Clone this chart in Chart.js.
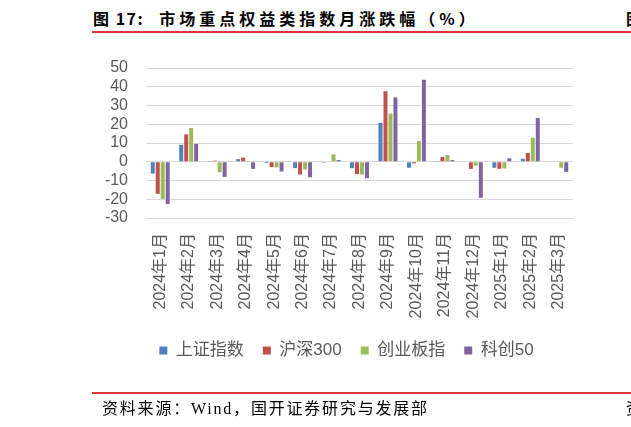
<!DOCTYPE html>
<html>
<head>
<meta charset="utf-8">
<script src="https://cdn.jsdelivr.net/npm/chart.js@4"></script>
<style>
  html, body { margin: 0; padding: 0; background: #fff; }
  #wrap { position: relative; width: 631px; height: 427px; overflow: hidden; }
  #chart { position: absolute; left: 0; top: 0; }
  .title { position: absolute; left: 93px; top: 6px; font: bold 16px "Noto Sans CJK SC", sans-serif; color: #000; white-space: nowrap; }
  .title .num { letter-spacing: 1.5px; }
  .title .txt { margin-left: 15px; letter-spacing: 4px; }
  .title2 { position: absolute; left: 626px; top: 6px; font: bold 16px "Noto Sans CJK SC", sans-serif; color: #000; }
  .rule { position: absolute; left: 92px; right: 0; height: 2px; background: #d9383f; }
  .source { position: absolute; left: 102px; top: 395px; font: 16px "Liberation Serif", "Noto Sans CJK SC", serif; letter-spacing: 1.8px; color: #000; white-space: nowrap; }
  .source2 { position: absolute; left: 626px; top: 395px; font: 16px "Noto Sans CJK SC", serif; color: #000; }
</style>
</head>
<body>
<div id="wrap">
  <div class="title"><span class="num">图 17:</span><span class="txt">市场重点权益类指数月涨跌幅（%）</span></div>
  <div class="title2">图</div>
  <div class="rule" style="top:31px"></div>
  <canvas id="chart" width="631" height="427"></canvas>
  <div class="rule" style="top:392px"></div>
  <div class="source">资料来源：Wind，国开证券研究与发展部</div>
  <div class="source2">资</div>
</div>
<script>
// months on the category axis
const months = ['2024年1月', '2024年2月', '2024年3月', '2024年4月', '2024年5月', '2024年6月',
  '2024年7月', '2024年8月', '2024年9月', '2024年10月', '2024年11月', '2024年12月',
  '2025年1月', '2025年2月', '2025年3月'];

// monthly change, %
const shIndex = [-6.3, 9.0, 0.4, 1.4, -0.7, -3.4, -0.5, -3.4, 20.8, -3.2, 0.4, -0.3, -3.2, 1.6, 0.3];
const hs300 = [-17.1, 14.6, 0.6, 2.2, -2.9, -6.8, 0.0, -6.6, 37.6, -0.9, 2.5, -3.8, -3.8, 4.7, 0.0];
const chinext = [-19.8, 18.0, -5.6, 0.5, -3.0, -4.1, 3.9, -6.8, 25.7, 11.0, 3.6, -2.0, -3.6, 12.8, -3.2];
const star50 = [-22.5, 9.5, -8.1, -3.8, -5.2, -8.3, 0.9, -8.8, 34.3, 43.7, 0.9, -19.2, 1.8, 23.4, -5.4];

const yTicks = [-30, -20, -10, 0, 10, 20, 30, 40, 50];

const grey = '#595959';
const family = '"Liberation Sans", "Noto Sans CJK SC", sans-serif';

// nudge the legend a bit right, like the original
const legendShift = {
  id: 'legendShift',
  afterLayout(chart) {
    chart.legend.left += 10;
    chart.legend.right += 10;
  }
};

const ctx = document.getElementById('chart').getContext('2d');
new Chart(ctx, {
  type: 'bar',
  data: {
    labels: months,
    datasets: [
      { label: '上证指数', data: shIndex, backgroundColor: '#4f81bd' },
      { label: '沪深300', data: hs300, backgroundColor: '#c0504d' },
      { label: '创业板指', data: chinext, backgroundColor: '#9bbb59' },
      { label: '科创50', data: star50, backgroundColor: '#8064a2' }
    ]
  },
  options: {
    responsive: false,
    animation: false,
    categoryPercentage: 0.7,
    barPercentage: 0.8,
    layout: { padding: { left: 100, right: 58, top: 68, bottom: 58 } },
    plugins: {
      legend: {
        position: 'bottom',
        labels: { boxWidth: 8, boxHeight: 8, padding: 19, color: grey, font: { family: family, size: 17 } }
      },
      tooltip: { enabled: false }
    },
    scales: {
      x: {
        grid: { display: false, drawTicks: false },
        border: { display: false },
        ticks: { color: grey, font: { family: family, size: 16 }, minRotation: 90, maxRotation: 90, padding: 15, autoSkip: false },
        afterFit: s => { s.height = 105; }
      },
      y: {
        min: -30,
        max: 50,
        afterBuildTicks: s => { s.ticks = yTicks.map(v => ({ value: v })); },
        grid: { color: '#d9d9d9', lineWidth: 1, drawTicks: false },
        border: { display: false },
        ticks: { color: grey, font: { family: family, size: 16 }, padding: 18, autoSkip: false },
        afterFit: s => { s.width = 46; }
      }
    }
  },
  plugins: [legendShift]
});
</script>
</body>
</html>
